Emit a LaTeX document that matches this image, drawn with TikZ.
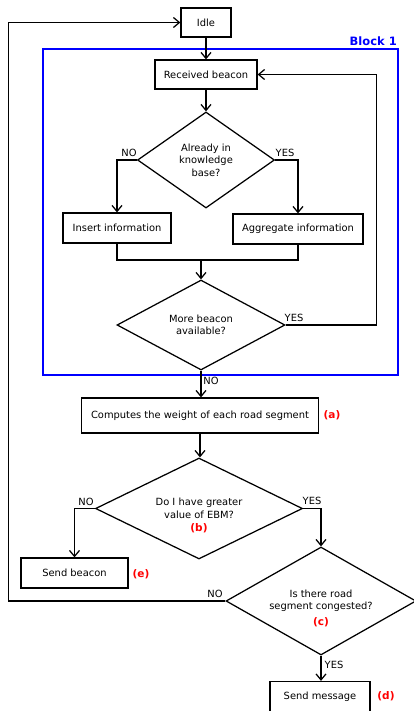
\documentclass[tikz,border=0pt]{standalone}
\usepackage{fontspec}
\setmainfont{DejaVu Sans}
\usetikzlibrary{shapes.geometric,arrows.meta}
\begin{document}
\begin{tikzpicture}[x=1pt,y=-1pt,
  every node/.style={font=\fontsize{9.9}{12.5}\selectfont},
  box/.style={draw, line width=1.25pt, inner sep=0pt},
  dia/.style={draw, diamond, line width=1.25pt, inner sep=0pt, align=center},
  arr/.style={-{Straight Barb[length=6pt,width=10pt]}, line width=1.25pt},
  ln/.style={line width=1.25pt},
  lbl/.style={inner sep=0pt},
  tag/.style={text=red, font=\fontsize{10.5}{12}\selectfont\bfseries, inner sep=0pt}]
\useasboundingbox (0,0) rectangle (414,711);
% block
\node[draw=blue, line width=1.25pt, minimum width=355pt, minimum height=326pt, inner sep=0pt] (block) at (220.5,212) {};
\node[anchor=south east, text=blue, font=\fontsize{11.5}{13}\selectfont\bfseries, inner sep=0pt] (blabel) at (397,46) {Block 1};
% nodes
\node[box, minimum width=50pt, minimum height=29pt] (idle) at (206,22.5) {Idle};
\node[box, minimum width=102pt, minimum height=29pt] (rb) at (206,74.5) {Received beacon};
\node[dia, aspect=1.43, minimum width=137pt, minimum height=96pt] (kb) at (206,160) {Already in\\knowledge\\base?};
\node[box, minimum width=108pt, minimum height=30pt] (ins) at (117,228) {Insert information};
\node[box, minimum width=130pt, minimum height=30pt] (agg) at (298,229) {Aggregate information};
\node[dia, aspect=1.87, minimum width=168pt, minimum height=90pt] (mb) at (201,325) {More beacon\\available?};
\node[box, minimum width=237pt, minimum height=35pt] (comp) at (200,415.5) {Computes the weight of each road segment};
\node[dia, aspect=2.05, minimum width=207pt, minimum height=101pt] (ebm) at (199,508.5) {Do I have greater\\value of EBM?};
\node[box, minimum width=107pt, minimum height=30pt] (sb) at (74.5,573) {Send beacon};
\node[dia, aspect=1.76, minimum width=190pt, minimum height=108pt] (cong) at (321,601) {Is there road\\segment congested?};
\node[box, minimum width=100pt, minimum height=30pt] (sm) at (320,696.5) {Send message};
% tags
\node[tag] (ta) at (332,415) {(a)};
\node[tag] (tb) at (199,528) {(b)};
\node[tag] (tc) at (321,622) {(c)};
\node[tag] (td) at (386,696) {(d)};
\node[tag] (te) at (141,574) {(e)};
% connectors
\draw[arr] (idle.south) -- (rb.north);
\draw[arr] (rb.south) -- (kb.north);
\draw[arr] (kb.west) -| (ins.north);
\draw[arr] (kb.east) -| (agg.north);
\coordinate (j) at (201,260);
\draw[ln] (ins.south) |- (j) -| (agg.south);
\draw[arr] (j) -- (mb.north);
\draw[arr] (mb.east) -- ++(91,0) |- (rb.east);
\draw[arr] (mb.south) -- (mb.south |- comp.north);
\draw[arr] (comp.south) -- (comp.south |- ebm.north);
\draw[arr] (ebm.west) -| (sb.north);
\draw[arr] (ebm.east) -| (cong.north);
\draw[arr] (cong.west) -- ++(-217,0) |- (idle.west);
\draw[arr] (cong.south) -- (cong.south |- sm.north);
% labels
\node[lbl] (l1) at (129,153) {NO};
\node[lbl] (l2) at (285,153) {YES};
\node[lbl] (l3) at (294,318) {YES};
\node[lbl] (l4) at (211,381) {NO};
\node[lbl] (l5) at (86,502) {NO};
\node[lbl] (l6) at (312,501) {YES};
\node[lbl] (l7) at (215,594) {NO};
\node[lbl] (l8) at (334,665) {YES};
\end{tikzpicture}
\end{document}
